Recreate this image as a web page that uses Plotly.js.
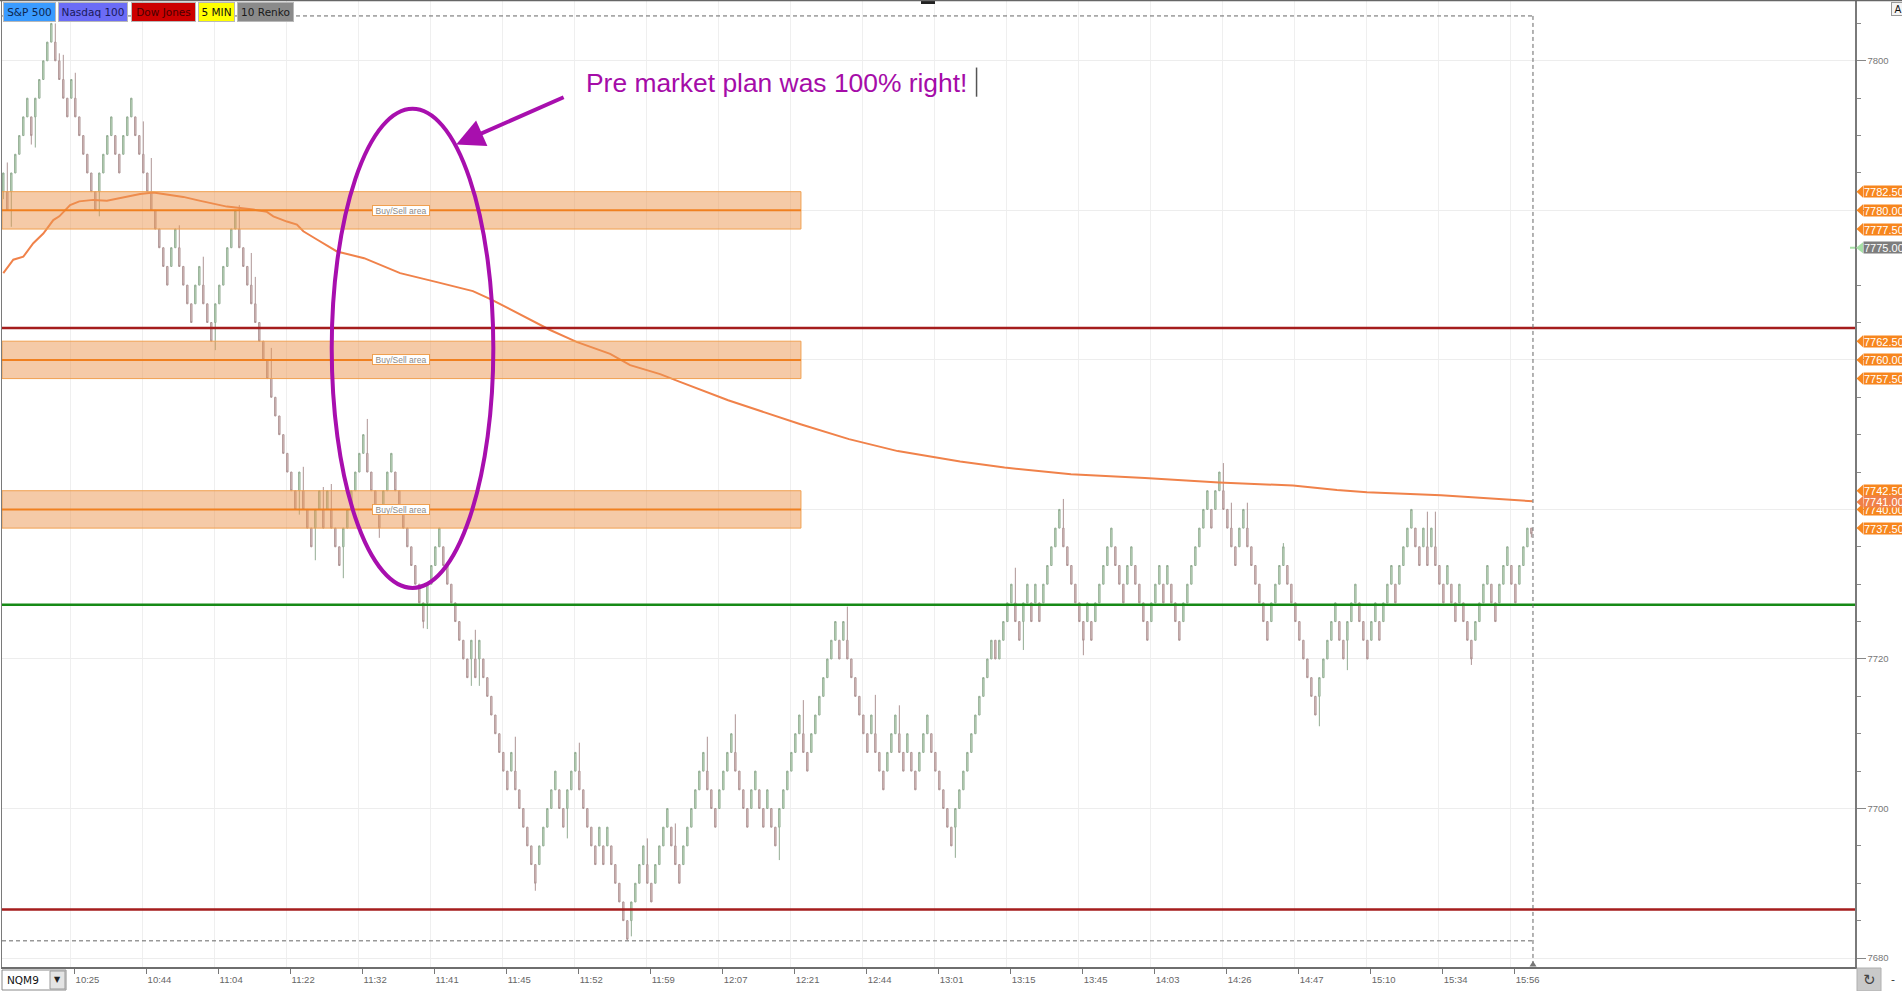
<!DOCTYPE html>
<html><head><meta charset="utf-8">
<script src="https://cdn.plot.ly/plotly-3.0.1.min.js"></script>
<style>html,body{margin:0;padding:0;background:#fff;overflow:hidden}#chart{width:1902px;height:991px}</style>
</head><body><div id="chart"></div>
<script>
// ---------------- DATA ----------------
const brickSize = 2.5;
// close of every 10-tick renko brick (NQM9)
const closes = [
 7785,7780,7785,7787.5,7790,7792.5,7795,7790,7795,7797.5,7800,7802.5,7805,
 7800,7797.5,7795,7792.5,7797.5,7792.5,7790,7787.5,7785,7782.5,7780,
 7785,7787.5,7790,7792.5,7787.5,7785,7790,7792.5,7795,
 7790,7787.5,7785,7782.5,7780,7777.5,7775,7772.5,7770,
 7775,7777.5,7772.5,7770,7767.5,7765,7770,7772.5,7767.5,7765,7762.5,
 7767.5,7770,7772.5,7775,7777.5,7780,
 7775,7772.5,7770,7767.5,7765,7762.5,7760,7757.5,7755,7752.5,7750,7747.5,7745,7742.5,7740,
 7745,7740,7737.5,7735,7740,7742.5,7737.5,7742.5,7737.5,7735,7732.5,7737.5,7740,7742.5,7745,7747.5,7750,
 7745,7742.5,7740,7737.5,7742.5,7745,7747.5,7742.5,7740,7737.5,7735,7732.5,7730,7727.5,7725,
 7730,7732.5,7735,7737.5,7732.5,7730,7727.5,7725,7722.5,7720,7717.5,
 7722.5,7717.5,7722.5,7717.5,7715,7712.5,7710,7707.5,7705,7702.5,
 7707.5,7702.5,7700,7697.5,7695,7692.5,7690,
 7695,7697.5,7700,7702.5,7705,
 7700,7697.5,7702.5,7705,7707.5,7702.5,7700,7697.5,7695,7692.5,
 7697.5,7692.5,7697.5,7692.5,7690,7687.5,7685,7682.5,
 7687.5,7690,7692.5,7695,7690,7687.5,7692.5,7695,
 7697.5,7700,7695,7692.5,7690,7695,7697.5,7700,7702.5,7705,7707.5,
 7702.5,7700,7697.5,7702.5,7705,7707.5,7710,
 7705,7702.5,7700,7697.5,7702.5,7705,7700,7697.5,7702.5,7697.5,7695,7700,7702.5,7705,7707.5,7710,7712.5,
 7707.5,7705,7710,7712.5,7715,7717.5,7720,7722.5,7725,
 7720,7725,7720,7717.5,7715,7712.5,7710,7707.5,
 7712.5,7707.5,7705,7702.5,7707.5,7710,7712.5,
 7707.5,7705,7710,7705,7702.5,7707.5,7710,7712.5,
 7707.5,7705,7702.5,7700,7697.5,7695,
 7700,7702.5,7705,7707.5,7710,7712.5,7715,7717.5,7720,7722.5,
 7720,7722.5,7725,7727.5,7730,
 7725,7722.5,7727.5,7730,7725,7730,7725,7730,7732.5,7735,7737.5,7740,
 7735,7732.5,7730,7727.5,7725,7722.5,
 7727.5,7722.5,7727.5,7730,7732.5,7735,7737.5,
 7732.5,7730,7727.5,7732.5,7735,7730,7727.5,7725,7722.5,
 7727.5,7730,7732.5,7727.5,7732.5,7727.5,7725,7722.5,
 7727.5,7730,7732.5,7735,7737.5,7740,7742.5,7737.5,7742.5,7745,
 7740,7737.5,7735,7732.5,
 7737.5,7740,7735,7732.5,7730,7727.5,7725,7722.5,
 7727.5,7730,7732.5,7735,
 7730,7727.5,7725,7722.5,7720,7717.5,7715,7712.5,
 7717.5,7720,7722.5,7725,7727.5,
 7722.5,7720,7725,7727.5,7730,7725,7722.5,7720,
 7725,7727.5,7722.5,7727.5,7730,7732.5,7727.5,7732.5,7735,7737.5,7740,
 7735,7732.5,7737.5,7732.5,7737.5,7732.5,7730,7727.5,7732.5,7727.5,7725,
 7730,7725,7722.5,7720,
 7725,7727.5,7730,7732.5,
 7727.5,7725,7730,7732.5,7735,
 7730,7727.5,7732.5,7735,7737.5,
 7736.75
];
const firstBrickUp = true;
// visible wick extremes: [brick index, price]
const wickMarks = [
 [0,7781.5],[1,7786.4],[2,7777.8],[7,7788.8],[8,7788.4],[13,7805],[14,7801],[15,7800.8],[18,7798.4],
 [24,7779.2],[35,7791.9],[37,7787],[44,7778],[50,7773.8],[53,7761.3],[59,7780.7],[62,7774.3],[63,7771.1],[67,7761.6],
 [74,7739.3],[75,7745.7],[78,7733.2],[80,7743],[82,7743.4],[85,7730.8],
 [91,7752.1],[94,7736.2],[105,7724.1],[106,7724],[117,7716.4],[118,7723.9],[119,7716.4],[128,7709.6],[133,7689],
 [141,7696],[144,7708.8],[156,7682.9],[157,7682.9],[161,7696],[162,7688.2],
 [168,7698],[169,7690],[176,7709.6],[183,7712.6],[194,7693.1],[200,7714.5],[211,7727],[218,7715.2],[224,7713.8],[238,7693.4],
 [253,7732.2],[255,7721.2],[265,7741.4],[270,7720.5],[305,7746.2],[307,7740.9],[311,7740.9],[320,7735.5],
 [329,7711],[336,7718.5],[356,7739.7],[358,7739.7],[367,7719.2],[382,7736.25]
];
// moving average line: [brick position], [value]
const maPos = [0,2.5,5,7.5,10,12.5,14,16.7,19,22.5,25.9,30.9,34.2,37.5,40.8,45,49,55.9,62.5,65.9,67.5,70.9,73.4,75,78.4,83.4,
 90.2,99.2,108.4,117.4,121.9,129.6,136.7,143.3,151.7,156.7,164.2,169,181.2,199.3,211.4,223.6,239.2,250.3,266.9,285.4,303.9,
 322.4,333.4,340.9,359.4,382.3];
const maVal = [7771.6,7773.4,7773.8,7775.6,7776.9,7778.7,7779.2,7780.7,7781.2,7781.4,7781.3,7781.8,7782.2,7782.4,7782.1,7781.8,
 7781.3,7780.5,7780.1,7779.8,7779.2,7778.5,7778.1,7777.2,7776.1,7774.5,7773.6,7771.6,7770.4,7769.2,7768.1,7766.0,7764.0,7762.4,
 7760.8,7759.3,7758.1,7757.1,7754.6,7751.4,7749.4,7747.8,7746.4,7745.6,7744.7,7744.2,7743.6,7743.2,7742.6,7742.3,7741.9,7741.1];
const timeLabels = ['10:25','10:44','11:04','11:22','11:32','11:41','11:45','11:52','11:59','12:07','12:21','12:44','13:01','13:15','13:45','14:03','14:26','14:47','15:10','15:34','15:56'];
const bandCenters = [7780, 7760, 7740];
const bandHalf = 2.5;
const bandEndBrick = 199.4;
const levelPrices = [7764.25, 7727.25, 7686.5];
const levelColors = ['#a51d1d', '#168a16', '#a51d1d'];
const tagValues = [7782.5, 7780, 7777.5, 7775, 7762.5, 7760, 7757.5, 7742.5, 7740, 7741, 7737.5];
const tagColors = ['#f7861e','#f7861e','#f7861e','#7d7d7d','#f7861e','#f7861e','#f7861e','#f7861e','#f7861e','#f08048','#f7861e'];
const buttonNames = ['S&P 500','Nasdaq 100','Dow Jones','5 MIN','10 Renko'];
const buttonColors = ['#3a9bff','#6b6cf6','#cc0000','#ffff00','#8a8a8a'];
const buttonText = ['#0d2650','#1a1a5a','#4a0000','#111','#1a1a1a'];
const note = 'Pre market plan was 100% right!';

// ---------------- LAYOUT HELPERS ----------------
const W = 1902, H = 991, ML = 2, MR = 47, MT = 1, MB = 24;
const PW = W - ML - MR, PH = H - MT - MB;
const xRange = [-0.325, 462.9], yRange = [7678.8, 7808.0];
const xp = px => (px - ML) / PW;
const yp = py => (H - MB - py) / PH;
const pp = price => (price - yRange[0]) / (yRange[1] - yRange[0]);

// ---------------- BRICKS ----------------
const idx = closes.map((_, i) => i);
const opens = closes.map((c, i) => {
  if (i === 0) return firstBrickUp ? c - brickSize : c + brickSize;
  const prev = closes[i - 1];
  if (Math.abs(c - prev) < brickSize) return prev;
  return c > prev ? c - brickSize : c + brickSize;
});
const highs = closes.map((c, i) => Math.max(c, opens[i]));
const lows = closes.map((c, i) => Math.min(c, opens[i]));
wickMarks.forEach(([i, p]) => { if (p > highs[i]) highs[i] = p; else if (p < lows[i]) lows[i] = p; });
const lastBrick = closes.length - 1;

const tickVals = timeLabels.map((_, k) => 17.7 + 18 * k);

const traces = [
  {type: 'candlestick', x: idx, open: opens, high: highs, low: lows, close: closes,
   increasing: {line: {color: '#93ac93', width: 1}, fillcolor: '#cbe8cb'},
   decreasing: {line: {color: '#ae9595', width: 1}, fillcolor: '#e8cbcb'},
   whiskerwidth: 0, hoverinfo: 'skip', showlegend: false},
  {type: 'scatter', mode: 'lines', x: maPos, y: maVal, line: {color: '#f0824a', width: 2},
   hoverinfo: 'skip', showlegend: false}
];

const shapes = [];
const annotations = [];

// bands
bandCenters.forEach(c => {
  shapes.push({type: 'rect', xref: 'x', yref: 'y', x0: xRange[0], x1: bandEndBrick, y0: c - bandHalf, y1: c + bandHalf,
    fillcolor: 'rgba(236,150,80,0.5)', line: {color: '#f0a050', width: 1}, layer: 'above'});
  shapes.push({type: 'line', xref: 'x', yref: 'y', x0: xRange[0], x1: bandEndBrick, y0: c, y1: c,
    line: {color: '#f08020', width: 2}, layer: 'above'});
  annotations.push({xref: 'x', yref: 'y', x: 99.4, y: c, text: 'Buy/Sell area', showarrow: false,
    width: 56, height: 9, bgcolor: '#ffffff', bordercolor: '#f0a050', borderwidth: 1, borderpad: 0,
    font: {family: 'Liberation Sans', size: 8.5, color: '#8a8a8a'}});
});
// horizontal levels
levelPrices.forEach((p, k) => {
  shapes.push({type: 'line', xref: 'paper', yref: 'y', x0: 0, x1: 1, y0: p, y1: p,
    line: {color: levelColors[k], width: 2.5}, layer: 'above'});
});
// dashed crosshair box
const dashTop = 7806.0, dashBottom = 7682.3;
const dashLine = {color: '#666', width: 1, dash: '4px,3px'};
shapes.push({type: 'line', xref: 'x', yref: 'y', x0: xRange[0], x1: lastBrick + 0.4, y0: dashTop, y1: dashTop, line: dashLine, layer: 'above'});
shapes.push({type: 'line', xref: 'x', yref: 'y', x0: xRange[0], x1: lastBrick + 0.4, y0: dashBottom, y1: dashBottom, line: dashLine, layer: 'above'});
shapes.push({type: 'line', xref: 'x', yref: 'y', x0: lastBrick + 0.4, x1: lastBrick + 0.4, y0: dashTop, y1: yRange[0], line: dashLine, layer: 'above'});
shapes.push({type: 'path', xref: 'paper', yref: 'paper',
  path: `M${xp(1533)},${yp(961)} L${xp(1529.5)},${yp(966.5)} L${xp(1536.5)},${yp(966.5)} Z`,
  fillcolor: '#777', line: {width: 0}});

// ellipse
shapes.push({type: 'circle', xref: 'x', yref: 'y', x0: 82.1, x1: 122.5, y0: 7729.5, y1: 7793.6,
  line: {color: '#a80fae', width: 4}, layer: 'above'});
// arrow
annotations.push({xref: 'x', yref: 'y', x: 113.2, y: 7788.8, ax: 109, ay: -48, text: '', showarrow: true,
  arrowhead: 2, arrowsize: 1.4, arrowwidth: 4, arrowcolor: '#a80fae', standoff: 0});
// note text
annotations.push({xref: 'x', yref: 'y', x: 145.2, y: 7797.1, xanchor: 'left', yanchor: 'middle', text: note,
  showarrow: false, font: {family: 'Liberation Sans', size: 26.4, color: '#a50ca8'}});
shapes.push({type: 'line', xref: 'x', yref: 'y', x0: 243.3, x1: 243.3, y0: 7795.2, y1: 7799.1,
  line: {color: '#555', width: 1.5}, layer: 'above'});

// price tags on the right
tagValues.forEach((v, k) => {
  const yc = pp(v), dy = 6 / PH;
  if (tagColors[k] === '#7d7d7d') {
    shapes.push({type: 'path', xref: 'paper', yref: 'paper',
      path: `M${xp(1856)},${yc} L${xp(1863)},${yc + 5.5 / PH} L${xp(1863)},${yc - 5.5 / PH} Z`,
      fillcolor: '#a6e0a6', line: {width: 0}});
    shapes.push({type: 'line', xref: 'paper', yref: 'paper', x0: xp(1850), x1: xp(1855), y0: yc, y1: yc,
      line: {color: '#a6e0a6', width: 2}});
  } else {
    shapes.push({type: 'path', xref: 'paper', yref: 'paper',
      path: `M${xp(1856.5)},${yc} L${xp(1863)},${yc + dy} L${xp(1863)},${yc - dy} Z`,
      fillcolor: tagColors[k], line: {width: 0}});
  }
  annotations.push({xref: 'paper', yref: 'paper', x: xp(1863), y: yc, xanchor: 'left', yanchor: 'middle',
    text: v.toFixed(2), showarrow: false, width: 44, height: 11, align: 'left', bgcolor: tagColors[k], borderpad: 0,
    font: {family: 'Liberation Sans', size: 11, color: '#ffffff'}});
});

// top-left buttons
const btnX = [3, 58, 131, 198, 237], btnW = [53, 70, 65, 37, 57];
buttonNames.forEach((n, k) => {
  annotations.push({xref: 'paper', yref: 'paper', x: xp(btnX[k]), y: yp(2), xanchor: 'left', yanchor: 'top',
    text: n, showarrow: false, width: btnW[k] - 2, height: 18, bgcolor: buttonColors[k], bordercolor: '#b8b8b8',
    borderwidth: 1, borderpad: 0, font: {family: 'DejaVu Sans', size: 10.5, color: buttonText[k]}});
});
// small top handle & "A" button
shapes.push({type: 'rect', xref: 'paper', yref: 'paper', x0: xp(921), x1: xp(935), y0: yp(0), y1: yp(4), fillcolor: '#222', line: {width: 0}});
annotations.push({xref: 'paper', yref: 'paper', x: xp(1891), y: yp(2), xanchor: 'left', yanchor: 'top', text: 'A', showarrow: false,
  width: 12, height: 12, bgcolor: '#f4f4f4', bordercolor: '#999', borderwidth: 1, borderpad: 0,
  font: {family: 'DejaVu Sans', size: 10, color: '#111'}});
// top border across full width
shapes.push({type: 'line', xref: 'paper', yref: 'paper', x0: xp(0), x1: xp(1902), y0: yp(0.5), y1: yp(0.5), line: {color: '#666', width: 1.5}});
// bottom-left symbol selector
shapes.push({type: 'rect', xref: 'paper', yref: 'paper', x0: xp(2), x1: xp(66), y0: yp(970), y1: yp(990), fillcolor: '#fff', line: {color: '#8a8a8a', width: 1}});
shapes.push({type: 'rect', xref: 'paper', yref: 'paper', x0: xp(50), x1: xp(65), y0: yp(971), y1: yp(989), fillcolor: '#e4e4e4', line: {color: '#9a9a9a', width: 1}});
annotations.push({xref: 'paper', yref: 'paper', x: xp(5), y: yp(980), xanchor: 'left', yanchor: 'middle', text: 'NQM9', showarrow: false,
  font: {family: 'DejaVu Sans', size: 10.5, color: '#111'}});
annotations.push({xref: 'paper', yref: 'paper', x: xp(57.5), y: yp(980), xanchor: 'center', yanchor: 'middle', text: '▼', showarrow: false,
  font: {family: 'DejaVu Sans', size: 8, color: '#222'}});
// bottom-right refresh button
shapes.push({type: 'rect', xref: 'paper', yref: 'paper', x0: xp(1857), x1: xp(1881), y0: yp(968), y1: yp(991), fillcolor: '#c9c9c9', line: {color: '#b0b0b0', width: 1}});
annotations.push({xref: 'paper', yref: 'paper', x: xp(1869), y: yp(980), xanchor: 'center', yanchor: 'middle', text: '↻', showarrow: false,
  font: {family: 'DejaVu Sans', size: 15, color: '#444'}});
annotations.push({xref: 'paper', yref: 'paper', x: xp(1893), y: yp(979), xanchor: 'center', yanchor: 'middle', text: '-', showarrow: false,
  font: {family: 'DejaVu Sans', size: 11, color: '#333'}});

const layout = {
  width: W, height: H,
  margin: {l: ML, r: MR, t: MT, b: MB, pad: 0},
  paper_bgcolor: '#ffffff', plot_bgcolor: '#ffffff',
  showlegend: false, dragmode: false, hovermode: false,
  boxgap: 0.5,
  font: {family: 'Liberation Sans', size: 10, color: '#666'},
  xaxis: {range: xRange, type: 'linear', fixedrange: true, rangeslider: {visible: false},
    tickmode: 'array', tickvals: tickVals, ticktext: timeLabels,
    ticks: 'outside', ticklen: 5, tickwidth: 1, tickcolor: '#777',
    ticklabelposition: 'outside right', ticklabelstandoff: 3,
    tickfont: {family: 'Liberation Sans', size: 9.5, color: '#666'},
    showgrid: false, zeroline: false,
    minor: {tickmode: 'array', tickvals: tickVals.map(v => v - 0.875), showgrid: true, gridcolor: '#efefef', gridwidth: 1, ticks: ''},
    showline: true, linecolor: '#6e6e6e', linewidth: 2, mirror: false},
  yaxis: {range: yRange, side: 'right', fixedrange: true,
    tick0: 7680, dtick: 20, ticks: 'outside', ticklen: 9, tickwidth: 1, tickcolor: '#888',
    tickfont: {family: 'Liberation Sans', size: 9.5, color: '#777'},
    showgrid: true, gridcolor: '#ededed', gridwidth: 1, zeroline: false,
    minor: {dtick: 5, tick0: 7680, ticks: 'outside', ticklen: 4, tickcolor: '#888', showgrid: false},
    showline: true, linecolor: '#7a7a7a', linewidth: 1.5, mirror: true},
  shapes: shapes,
  annotations: annotations
};

Plotly.newPlot('chart', traces, layout, {staticPlot: true, displayModeBar: false});
</script>
</body></html>
